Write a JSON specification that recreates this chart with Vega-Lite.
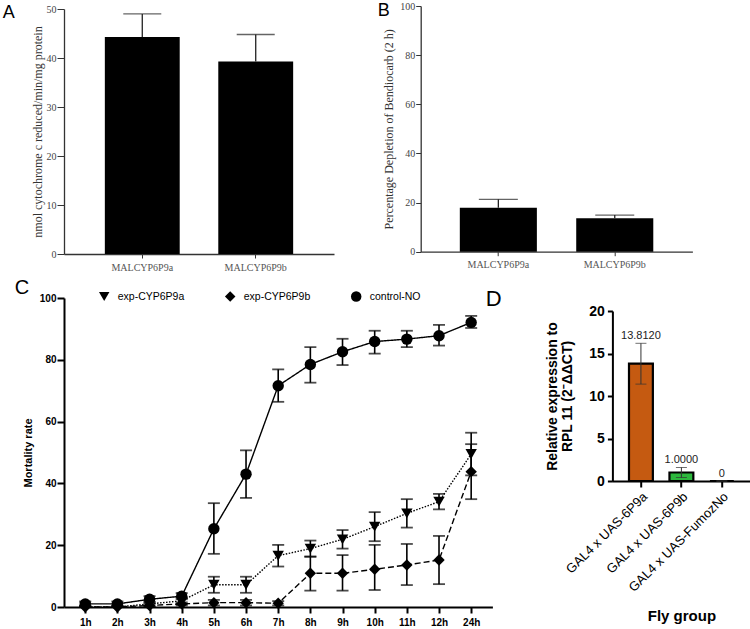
{
  "$schema": "https://vega.github.io/schema/vega-lite/v6.json",
  "background": "white",
  "padding": {"left": 2, "top": 1, "right": 0, "bottom": 0},
  "bounds": "flush",
  "align": "none",
  "columns": 2,
  "spacing": {"row": 44, "column": 86.7},
  "resolve": {"scale": {"shape": "independent", "strokeDash": "independent", "color": "independent"}, "legend": {"shape": "independent", "strokeDash": "independent", "color": "independent"}},
  "config": {"view": {"stroke": null}, "axis": {"grid": false}, "font": "Liberation Sans"},
  "datasets": {
    "enzyme": [
      {"gene": "MALCYP6P9a", "activity": 44.3, "activity_hi": 49.0, "depletion": 17.9, "depletion_hi": 21.3},
      {"gene": "MALCYP6P9b", "activity": 39.3, "activity_hi": 44.8, "depletion": 13.6, "depletion_hi": 14.9}
    ],
    "mortality": [
      {"time": "1h", "group": "control-NO", "mean": 1.0, "lo": 0.3, "hi": 1.8},
      {"time": "2h", "group": "control-NO", "mean": 1.0, "lo": 0.3, "hi": 1.8},
      {"time": "3h", "group": "control-NO", "mean": 2.5, "lo": 1.5, "hi": 3.5},
      {"time": "4h", "group": "control-NO", "mean": 3.5, "lo": 2.5, "hi": 4.5},
      {"time": "5h", "group": "control-NO", "mean": 25.3, "lo": 17.2, "hi": 33.6},
      {"time": "6h", "group": "control-NO", "mean": 43.0, "lo": 35.3, "hi": 50.7},
      {"time": "7h", "group": "control-NO", "mean": 71.6, "lo": 66.4, "hi": 76.9},
      {"time": "8h", "group": "control-NO", "mean": 78.5, "lo": 72.6, "hi": 84.1},
      {"time": "9h", "group": "control-NO", "mean": 82.6, "lo": 78.3, "hi": 86.8},
      {"time": "10h", "group": "control-NO", "mean": 85.9, "lo": 82.0, "hi": 89.4},
      {"time": "11h", "group": "control-NO", "mean": 86.7, "lo": 84.1, "hi": 89.4},
      {"time": "12h", "group": "control-NO", "mean": 87.8, "lo": 84.6, "hi": 91.3},
      {"time": "24h", "group": "control-NO", "mean": 92.1, "lo": 90.3, "hi": 94.2},
      {"time": "1h", "group": "exp-CYP6P9a", "mean": 0.0, "lo": 0.0, "hi": 0.5},
      {"time": "2h", "group": "exp-CYP6P9a", "mean": 0.0, "lo": 0.0, "hi": 0.5},
      {"time": "3h", "group": "exp-CYP6P9a", "mean": 1.0, "lo": 0.3, "hi": 1.7},
      {"time": "4h", "group": "exp-CYP6P9a", "mean": 2.0, "lo": 1.0, "hi": 3.0},
      {"time": "5h", "group": "exp-CYP6P9a", "mean": 7.2, "lo": 4.6, "hi": 9.8},
      {"time": "6h", "group": "exp-CYP6P9a", "mean": 7.2, "lo": 4.6, "hi": 9.8},
      {"time": "7h", "group": "exp-CYP6P9a", "mean": 16.6, "lo": 13.1, "hi": 20.1},
      {"time": "8h", "group": "exp-CYP6P9a", "mean": 18.9, "lo": 16.3, "hi": 21.5},
      {"time": "9h", "group": "exp-CYP6P9a", "mean": 21.9, "lo": 18.9, "hi": 24.9},
      {"time": "10h", "group": "exp-CYP6P9a", "mean": 26.0, "lo": 21.3, "hi": 30.7},
      {"time": "11h", "group": "exp-CYP6P9a", "mean": 30.3, "lo": 25.7, "hi": 34.9},
      {"time": "12h", "group": "exp-CYP6P9a", "mean": 34.1, "lo": 31.6, "hi": 36.6},
      {"time": "24h", "group": "exp-CYP6P9a", "mean": 49.5, "lo": 42.6, "hi": 56.4},
      {"time": "1h", "group": "exp-CYP6P9b", "mean": 0.0, "lo": 0.0, "hi": 0.3},
      {"time": "2h", "group": "exp-CYP6P9b", "mean": 0.0, "lo": 0.0, "hi": 0.3},
      {"time": "3h", "group": "exp-CYP6P9b", "mean": 0.5, "lo": 0.0, "hi": 1.0},
      {"time": "4h", "group": "exp-CYP6P9b", "mean": 1.0, "lo": 0.5, "hi": 1.5},
      {"time": "5h", "group": "exp-CYP6P9b", "mean": 1.4, "lo": 0.5, "hi": 2.3},
      {"time": "6h", "group": "exp-CYP6P9b", "mean": 1.4, "lo": 0.5, "hi": 2.3},
      {"time": "7h", "group": "exp-CYP6P9b", "mean": 1.2, "lo": 0.5, "hi": 1.9},
      {"time": "8h", "group": "exp-CYP6P9b", "mean": 10.9, "lo": 5.3, "hi": 16.3},
      {"time": "9h", "group": "exp-CYP6P9b", "mean": 10.9, "lo": 5.3, "hi": 16.8},
      {"time": "10h", "group": "exp-CYP6P9b", "mean": 12.2, "lo": 5.5, "hi": 20.1},
      {"time": "11h", "group": "exp-CYP6P9b", "mean": 13.6, "lo": 7.1, "hi": 20.4},
      {"time": "12h", "group": "exp-CYP6P9b", "mean": 15.2, "lo": 7.4, "hi": 23.0},
      {"time": "24h", "group": "exp-CYP6P9b", "mean": 43.8, "lo": 34.9, "hi": 52.7}
    ],
    "expression": [
      {"group": "GAL4 x UAS-6P9a", "expression": 13.812, "lo": 11.4, "hi": 16.2, "label": "13.8120"},
      {"group": "GAL4 x UAS-6P9b", "expression": 1.0, "lo": 0.4, "hi": 1.6, "label": "1.0000"},
      {"group": "GAL4 x UAS-FumozNo", "expression": 0, "lo": 0, "hi": 0, "label": "0"}
    ]
  },
  "concat": [
    {
      "width": 270, "height": 248,
      "title": {"text": "A", "anchor": "start", "frame": "group", "offset": 0, "dx": -61.3, "dy": 32, "baseline": "alphabetic", "fontSize": 18, "fontWeight": "normal", "font": "Liberation Sans", "color": "black"},
      "data": {"name": "enzyme"},
      "encoding": {
        "x": {"field": "gene", "type": "nominal", "sort": null,
          "scale": {"paddingInner": 0.34, "paddingOuter": 0.36},
          "axis": {"title": null, "labelAngle": 0, "labelFont": "Liberation Serif", "labelFontSize": 10, "labelColor": "#555", "tickSize": 4, "labelPadding": 4, "domainColor": "#333", "tickColor": "#333", "domainWidth": 1.3}}
      },
      "layer": [
        {"mark": {"type": "bar", "color": "black"},
         "encoding": {"y": {"field": "activity", "type": "quantitative",
           "scale": {"domain": [0, 50], "range": [248, 3], "nice": false},
           "axis": {"title": "nmol cytochrome c reduced/min/mg protein", "values": [0, 10, 20, 30, 40, 50], "titleFont": "Liberation Serif", "titleFontSize": 12, "titleFontWeight": "normal", "titleColor": "#333", "titlePadding": 2, "labelFont": "Liberation Serif", "labelFontSize": 10, "labelColor": "#444", "labelPadding": 1, "tickSize": 7, "tickColor": "#333", "domainColor": "#333", "domainWidth": 1.3}}}},
        {"mark": {"type": "rule", "color": "#222", "strokeWidth": 1.3},
         "encoding": {"y": {"field": "activity", "type": "quantitative"}, "y2": {"field": "activity_hi"}}},
        {"mark": {"type": "tick", "color": "#222", "thickness": 1.3, "size": 38},
         "encoding": {"y": {"field": "activity_hi", "type": "quantitative"}}}
      ]
    },
    {
      "width": 271.7, "height": 245.7,
      "title": {"text": "B", "anchor": "start", "frame": "group", "offset": 0, "dx": -43, "dy": 33, "baseline": "alphabetic", "fontSize": 18, "fontWeight": "normal", "font": "Liberation Sans", "color": "black"},
      "data": {"name": "enzyme"},
      "encoding": {
        "x": {"field": "gene", "type": "nominal", "sort": null,
          "scale": {"paddingInner": 0.338, "paddingOuter": 0.336},
          "axis": {"title": null, "labelAngle": 0, "labelFont": "Liberation Serif", "labelFontSize": 10, "labelColor": "#555", "tickSize": 4, "labelPadding": 4, "domainColor": "#333", "tickColor": "#333", "domainWidth": 1.3}}
      },
      "layer": [
        {"mark": {"type": "bar", "color": "black"},
         "encoding": {"y": {"field": "depletion", "type": "quantitative",
           "scale": {"domain": [0, 100], "nice": false},
           "axis": {"title": "Percentage  Depletion of Bendiocarb (2 h)", "values": [0, 20, 40, 60, 80, 100], "titleFont": "Liberation Serif", "titleFontSize": 12, "titleFontWeight": "normal", "titleColor": "#333", "titlePadding": 4, "labelFont": "Liberation Serif", "labelFontSize": 10, "labelColor": "#444", "labelPadding": 1, "tickSize": 5, "tickColor": "#333", "domainColor": "#333", "domainWidth": 1.3}}}},
        {"mark": {"type": "rule", "color": "#222", "strokeWidth": 1.3},
         "encoding": {"y": {"field": "depletion", "type": "quantitative"}, "y2": {"field": "depletion_hi"}}},
        {"mark": {"type": "tick", "color": "#222", "thickness": 1.3, "size": 39},
         "encoding": {"y": {"field": "depletion_hi", "type": "quantitative"}}}
      ]
    },
    {
      "width": 270, "height": 309,
      "title": {"text": "C", "anchor": "start", "frame": "group", "offset": 0, "dx": -49.3, "dy": 23, "baseline": "alphabetic", "fontSize": 20, "fontWeight": "normal", "font": "Liberation Sans", "color": "black"},
      "data": {"name": "mortality"},
      "encoding": {
        "x": {"field": "time", "type": "ordinal",
          "sort": ["1h", "2h", "3h", "4h", "5h", "6h", "7h", "8h", "9h", "10h", "11h", "12h", "24h"],
          "scale": {"type": "point", "padding": 0.66, "range": [0, 428.4]},
          "axis": {"title": null, "labelAngle": 0, "labelFont": "Liberation Sans", "labelFontSize": 10, "labelFontWeight": "bold", "labelColor": "black", "domainColor": "black", "domainWidth": 2, "tickColor": "black", "tickWidth": 2, "tickSize": 6, "labelPadding": 4}}
      },
      "layer": [
        {"mark": {"type": "line", "color": "black", "strokeWidth": 1.4},
         "encoding": {
           "y": {"field": "mean", "type": "quantitative",
             "scale": {"domain": [0, 100], "nice": false},
             "axis": {"title": "Mortality rate", "values": [0, 20, 40, 60, 80, 100], "titleFont": "Liberation Sans", "titleFontSize": 11, "titleFontWeight": "bold", "titleColor": "black", "titlePadding": 6, "labelFont": "Liberation Sans", "labelFontSize": 10, "labelFontWeight": "bold", "labelColor": "black", "labelPadding": 1, "tickSize": 7, "tickWidth": 2, "tickColor": "black", "domainColor": "black", "domainWidth": 2}},
           "strokeDash": {"field": "group", "type": "nominal",
             "scale": {"domain": ["exp-CYP6P9a", "exp-CYP6P9b", "control-NO"], "range": [[1.5, 1.5], [6, 3], [1, 0]]},
             "legend": {"title": null, "orient": "none", "legendX": 34.7, "legendY": -7, "direction": "horizontal", "labelFont": "Liberation Sans", "labelFontSize": 10.5, "labelColor": "black", "symbolSize": 110, "symbolFillColor": "black", "symbolStrokeColor": "black", "symbolStrokeWidth": 0, "symbolOpacity": 1, "columnPadding": 40, "labelOffset": 8, "padding": 0}}}},
        {"mark": {"type": "rule", "color": "black", "strokeWidth": 1.6},
         "encoding": {"y": {"field": "lo", "type": "quantitative"}, "y2": {"field": "hi"}, "detail": {"field": "group", "type": "nominal"}}},
        {"mark": {"type": "tick", "color": "black", "thickness": 1.8, "size": 12},
         "encoding": {"y": {"field": "lo", "type": "quantitative"}, "detail": {"field": "group", "type": "nominal"}}},
        {"mark": {"type": "tick", "color": "black", "thickness": 1.8, "size": 12},
         "encoding": {"y": {"field": "hi", "type": "quantitative"}, "detail": {"field": "group", "type": "nominal"}}},
        {"mark": {"type": "point", "filled": true, "color": "black", "opacity": 1, "size": 130},
         "encoding": {
           "y": {"field": "mean", "type": "quantitative"},
           "shape": {"field": "group", "type": "nominal",
             "scale": {"domain": ["exp-CYP6P9a", "exp-CYP6P9b", "control-NO"], "range": ["triangle-down", "diamond", "circle"]},
             "legend": {"title": null, "orient": "none", "legendX": 34.7, "legendY": -7, "direction": "horizontal", "labelFont": "Liberation Sans", "labelFontSize": 10.5, "labelColor": "black", "symbolSize": 110, "symbolFillColor": "black", "symbolStrokeColor": "black", "symbolStrokeWidth": 0, "symbolOpacity": 1, "columnPadding": 40, "labelOffset": 8, "padding": 0}}}}
      ]
    },
    {
      "width": 330, "height": 183,
      "title": {"text": "D", "anchor": "start", "frame": "group", "offset": 0, "dx": 65, "dy": 30, "baseline": "alphabetic", "fontSize": 22, "fontWeight": "normal", "font": "Liberation Sans", "color": "black"},
      "data": {"name": "expression"},
      "encoding": {
        "x": {"field": "group", "type": "nominal", "sort": null,
          "scale": {"paddingInner": 0.41, "paddingOuter": 0.41, "range": [191.7, 329.7]},
          "axis": {"title": "Fly group", "titleFont": "Liberation Sans", "titleFontSize": 15, "titleFontWeight": "bold", "titleColor": "black", "titlePadding": 14, "labelAngle": -45, "labelFont": "Liberation Sans", "labelFontSize": 13, "labelColor": "black", "labelPadding": 3, "domainColor": "black", "domainWidth": 2, "tickColor": "black", "tickWidth": 2, "tickSize": 6}}
      },
      "layer": [
        {"mark": {"type": "bar", "stroke": "black", "strokeWidth": 2.2},
         "encoding": {
           "y": {"field": "expression", "type": "quantitative",
             "scale": {"domain": [0, 20], "range": [183, 13], "nice": false},
             "axis": {"title": ["Relative expression to", "RPL 11 (2⁻ΔΔCT)"], "offset": -191.7, "values": [0, 5, 10, 15, 20], "titleFont": "Liberation Sans", "titleFontSize": 14, "titleFontWeight": "bold", "titleColor": "black", "titleLineHeight": 15, "titlePadding": 14, "labelFont": "Liberation Sans", "labelFontSize": 14, "labelFontWeight": "bold", "labelColor": "black", "labelPadding": 3, "tickSize": 5, "tickWidth": 2, "tickColor": "black", "domainColor": "black", "domainWidth": 2}},
           "color": {"field": "group", "type": "nominal",
             "scale": {"domain": ["GAL4 x UAS-6P9a", "GAL4 x UAS-6P9b", "GAL4 x UAS-FumozNo"], "range": ["#C55A11", "#2DB83D", "#888888"]},
             "legend": null}}},
        {"mark": {"type": "rule", "color": "#333", "strokeWidth": 1},
         "encoding": {"y": {"field": "lo", "type": "quantitative"}, "y2": {"field": "hi"}}},
        {"mark": {"type": "tick", "color": "#333", "thickness": 1, "size": 11},
         "encoding": {"y": {"field": "lo", "type": "quantitative"}}},
        {"mark": {"type": "tick", "color": "#333", "thickness": 1, "size": 11},
         "encoding": {"y": {"field": "hi", "type": "quantitative"}}},
        {"mark": {"type": "text", "baseline": "bottom", "dy": -2, "fontSize": 11, "font": "Liberation Sans", "fill": "#222"},
         "encoding": {"y": {"field": "hi", "type": "quantitative"}, "text": {"field": "label"}}}
      ]
    }
  ]
}
